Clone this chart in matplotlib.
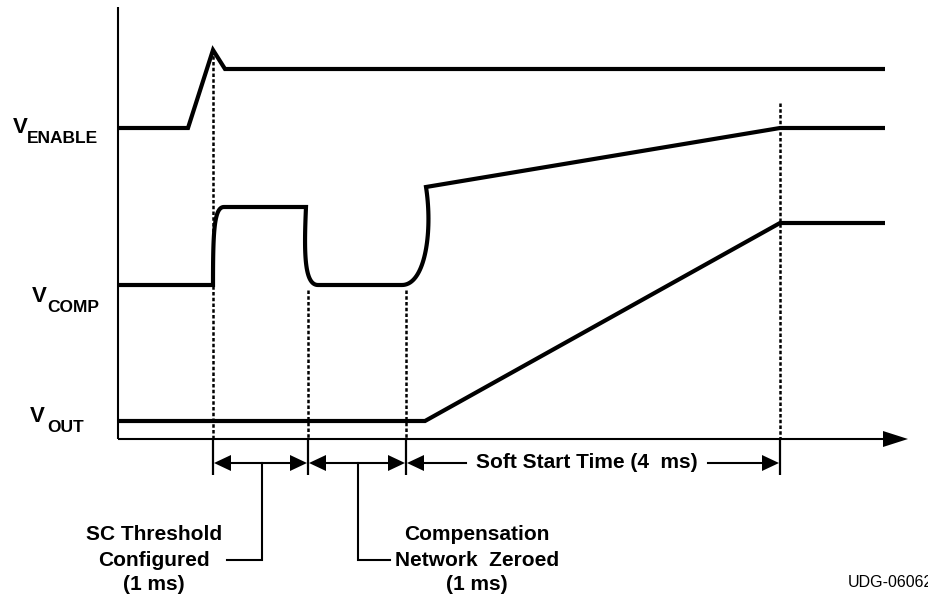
import numpy as np
import matplotlib
matplotlib.use("Agg")
import matplotlib.pyplot as plt

# === Diagram geometry (pixel-like units, y grows downward) ===
T_START = 118          # time axis origin
T_SC = 213             # SC threshold configure starts
T_ZERO = 308           # compensation zeroing starts
T_SS = 406             # soft start begins
T_END = 780            # soft start done
T_RIGHT = 885          # end of traces
AXIS_Y = 439
AXIS_TOP = 7
ARROW_Y = 463

# waveforms: (x, y) knots, "c" marks a cubic bezier (3 control points follow)
enable_pts = [(118, 128), (188, 128), (213, 50), (225, 69), (885, 69)]
comp_pts = [(118, 285), (213, 285),
            ("c", (213, 232), (214, 207), (224, 207)),
            (306, 207),
            ("c", (304, 252), (304, 285), (318, 285)),
            (402, 285),
            ("c", (425, 285), (433, 232), (426, 187)),
            (780, 128), (885, 128)]
vout_pts = [(118, 421), (425, 421), (780, 223), (885, 223)]

# dotted markers: x, top y
marker_x = [T_SC, T_ZERO, T_SS, T_END]
marker_top = [50, 290, 290, 103]

# interval arrows
intervals = [(T_SC, T_ZERO), (T_ZERO, T_SS), (T_SS, T_END)]
soft_label = "Soft Start Time (4  ms)"
soft_gap = (466, 708)

signal_names = [("V", "ENABLE", 13, 133, 27, 143),
                ("V", "COMP", 32, 302, 47, 312),
                ("V", "OUT", 30, 422, 47, 432)]

sc_lines = ["SC Threshold", "Configured", "(1 ms)"]
comp_lines = ["Compensation", "Network  Zeroed", "(1 ms)"]
note_rows = [534, 560, 584]

FONT = "Liberation Sans"


def expand(pts):
    xs, ys = [], []
    for p in pts:
        if p[0] == "c":
            p0 = np.array([xs[-1], ys[-1]])
            p1, p2, p3 = (np.array(q) for q in p[1:])
            t = np.linspace(0, 1, 40)[1:, None]
            b = ((1 - t) ** 3) * p0 + 3 * ((1 - t) ** 2) * t * p1 \
                + 3 * (1 - t) * t ** 2 * p2 + t ** 3 * p3
            xs += list(b[:, 0])
            ys += list(b[:, 1])
        else:
            xs.append(p[0])
            ys.append(p[1])
    return xs, ys


def head(ax, tip_x, y, direction, length=17, half=8, **kw):
    base = tip_x - direction * length
    ax.fill([tip_x, base, base], [y, y - half, y + half], color="black", lw=0, **kw)


fig = plt.figure(figsize=(9.29, 5.96), dpi=100)
ax = fig.add_axes([0, 0, 1, 1])
ax.set_xlim(0, 929)
ax.set_ylim(596, 0)
ax.axis("off")

# axes
ax.plot([T_START, T_START], [AXIS_TOP, AXIS_Y], color="black", lw=1.5, solid_capstyle="butt")
ax.plot([T_START, 885], [AXIS_Y, AXIS_Y], color="black", lw=1.5, solid_capstyle="butt")
head(ax, 908, AXIS_Y, 1, length=25, half=8)

# traces
for pts in (enable_pts, comp_pts, vout_pts):
    xs, ys = expand(pts)
    ax.plot(xs, ys, color="black", lw=3.0, solid_joinstyle="miter", solid_capstyle="butt")

# dotted time markers and solid ticks below axis
for x, top in zip(marker_x, marker_top):
    ax.plot([x, x], [top, AXIS_Y], color="black", lw=1.8, ls=(0, (1.4, 0.9)))
    ax.plot([x, x], [AXIS_Y, 475], color="black", lw=1.6, solid_capstyle="butt")

# interval arrows
for a, b in intervals:
    if (a, b) == (T_SS, T_END):
        ax.plot([a + 10, soft_gap[0]], [ARROW_Y, ARROW_Y], color="black", lw=1.5)
        ax.plot([soft_gap[1], b - 10], [ARROW_Y, ARROW_Y], color="black", lw=1.5)
    else:
        ax.plot([a + 10, b - 10], [ARROW_Y, ARROW_Y], color="black", lw=1.5)
    head(ax, a + 1, ARROW_Y, -1)
    head(ax, b - 1, ARROW_Y, 1)

ax.text(sum(soft_gap) / 2, ARROW_Y, soft_label, ha="center", va="center",
        fontsize=15, fontweight="bold", family=FONT)

# leaders to notes
ax.plot([262, 262, 227], [ARROW_Y, 560, 560], color="black", lw=1.5,
        solid_joinstyle="miter")
ax.plot([358, 358, 390], [ARROW_Y, 560, 560], color="black", lw=1.5,
        solid_joinstyle="miter")

for txt, y in zip(sc_lines, note_rows):
    ax.text(154, y, txt, ha="center", va="center", fontsize=15,
            fontweight="bold", family=FONT)
for txt, y in zip(comp_lines, note_rows):
    ax.text(477, y, txt, ha="center", va="center", fontsize=15,
            fontweight="bold", family=FONT)

# signal names
for v, sub, vx, vy, sx, sy in signal_names:
    ax.text(vx, vy, v, ha="left", va="baseline", fontsize=16,
            fontweight="bold", family=FONT)
    ax.text(sx, sy, sub, ha="left", va="baseline", fontsize=12.5,
            fontweight="bold", family=FONT)

ax.text(848, 587, "UDG-06062", ha="left", va="baseline", fontsize=11.5, family=FONT)

fig.savefig("out.png", dpi=100)
